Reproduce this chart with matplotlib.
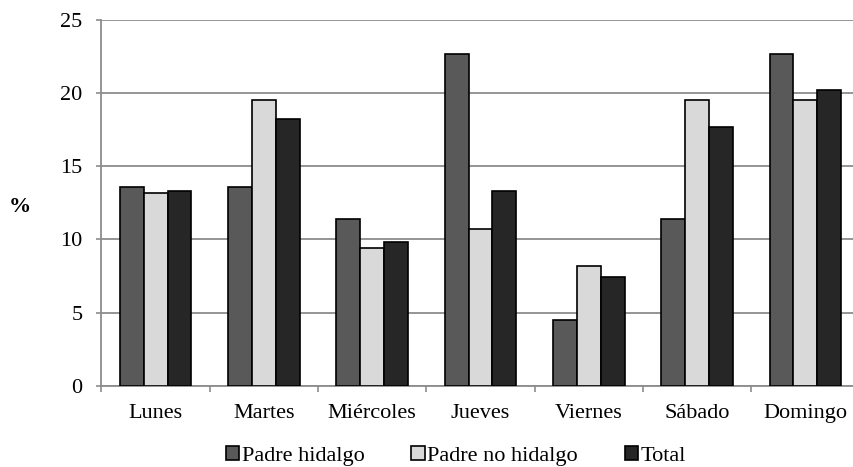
import matplotlib
matplotlib.use("Agg")
import matplotlib.pyplot as plt
import numpy as np

plt.rcParams['font.family'] = ['Liberation Serif', 'DejaVu Serif']

days = ["Lunes", "Martes", "Miércoles", "Jueves", "Viernes", "Sábado", "Domingo"]
padre_hidalgo = [13.6, 13.6, 11.4, 22.7, 4.5, 11.4, 22.7]
padre_no_hidalgo = [13.2, 19.5, 9.4, 10.7, 8.2, 19.5, 19.5]
total = [13.3, 18.2, 9.8, 13.3, 7.4, 17.7, 20.2]

series = [
    ("Padre hidalgo", padre_hidalgo, "#595959"),
    ("Padre no hidalgo", padre_no_hidalgo, "#d9d9d9"),
    ("Total", total, "#262626"),
]

fig = plt.figure(figsize=(8.54, 4.67), dpi=100)
ax = fig.add_axes([101.5 / 854, 1 - 385.7 / 467, 758 / 854, (385.7 - 20) / 467])

x = np.arange(len(days))
bw = 0.22
for i, (name, vals, col) in enumerate(series):
    ax.bar(x + (i - 1) * bw, vals, width=bw, color=col, edgecolor="black",
           linewidth=1.2, label=name, zorder=3)

ax.set_xlim(-0.5, len(days) - 0.5)
ax.set_ylim(0, 25)
ax.set_yticks(range(0, 26, 5))
ax.yaxis.grid(True, color="#8c8c8c", linewidth=1.3, zorder=0)
ax.set_axisbelow(True)

ax.set_xticks(x)
ax.set_xticklabels(days, fontsize=16)
ax.set_xticks(np.arange(-0.5, len(days)), minor=True)
ax.tick_params(axis="x", which="major", length=0, pad=13.5)
ax.tick_params(axis="x", which="minor", length=4, width=1.2, color="#8c8c8c", direction="out")
ax.tick_params(axis="y", length=3.6, width=1.2, color="#8c8c8c", labelsize=16, pad=10)

for s in ["top", "right"]:
    ax.spines[s].set_visible(False)
for s in ["left", "bottom"]:
    ax.spines[s].set_color("#8c8c8c")
    ax.spines[s].set_linewidth(1.3)

fig.text(20 / 854, 1 - 207 / 467, "%", fontsize=16, fontweight="bold", ha="center", va="center")

leg = fig.legend(loc="center", bbox_to_anchor=(456 / 854, 1 - 456 / 467), ncol=3, frameon=False,
                 fontsize=16, handlelength=0.6, handleheight=0.6, handletextpad=0.12,
                 columnspacing=2.1, borderpad=0)

fig.savefig("out.png", dpi=100)
